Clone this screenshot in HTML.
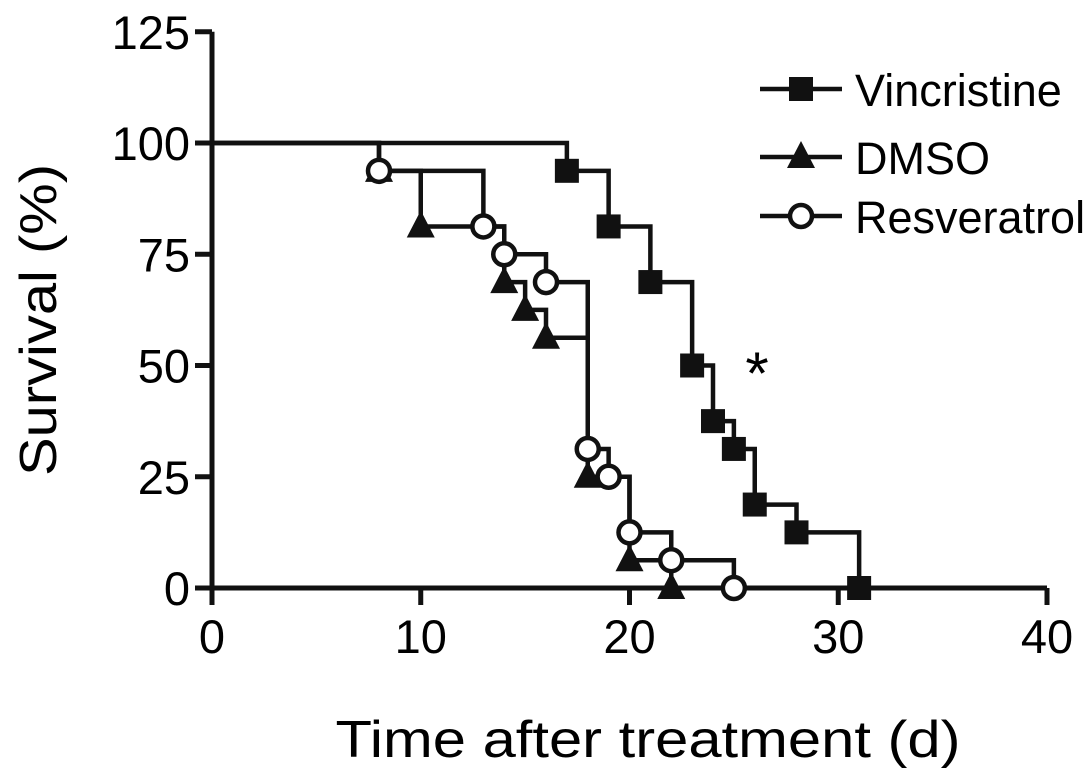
<!DOCTYPE html>
<html><head><meta charset="utf-8"><style>
html,body{margin:0;padding:0;background:#fff;}
svg{display:block;font-family:"Liberation Sans",Arial,sans-serif;}
</style></head><body>
<svg id="chart" width="1087" height="778" viewBox="0 0 1087 778" xmlns="http://www.w3.org/2000/svg">
<g id="axes"></g>
<g id="series"></g>
<g id="legend"></g>
<text x="757" y="394" font-size="60" text-anchor="middle">*</text>
<text x="648" y="757" font-size="52" text-anchor="middle" textLength="625" lengthAdjust="spacingAndGlyphs">Time after treatment (d)</text>
<text transform="translate(56,320) rotate(-90)" font-size="52" text-anchor="middle" textLength="312" lengthAdjust="spacingAndGlyphs">Survival (%)</text>
</svg>
<script>
const xTicks = [0, 10, 20, 30, 40];
const yTicks = [0, 25, 50, 75, 100, 125];
const seriesNames = ["Vincristine", "DMSO", "Resveratrol"];
const vincristineT = [17, 19, 21, 23, 24, 25, 26, 28, 31];
const vincristineS = [93.75, 81.25, 68.75, 50, 37.5, 31.25, 18.75, 12.5, 0];
const dmsoT = [8, 10, 14, 15, 16, 18, 20, 22];
const dmsoS = [93.75, 81.25, 68.75, 62.5, 56.25, 25, 6.25, 0];
const resveratrolT = [8, 13, 14, 16, 18, 19, 20, 22, 25];
const resveratrolS = [93.75, 81.25, 75, 68.75, 31.25, 25, 12.5, 6.25, 0];

const NS = "http://www.w3.org/2000/svg";
const X = v => 212 + v * (1047 - 212) / 40;
const Y = v => 588 - v * (588 - 143) / 100;
function mk(tag, attrs, parent) {
  const e = document.createElementNS(NS, tag);
  for (const k in attrs) e.setAttribute(k, attrs[k]);
  parent.appendChild(e);
  return e;
}
const axes = document.getElementById('axes');
let l = mk('line', {x1: X(0), y1: Y(0), x2: X(40), y2: Y(0), stroke: '#111', 'stroke-width': 5}, axes);


l = mk('line', {x1: X(0), y1: Y(0), x2: X(0), y2: Y(125), stroke: '#111', 'stroke-width': 5}, axes);


xTicks.forEach(t => {
  const tk = mk('line', {x1: X(t), y1: Y(0), x2: X(t), y2: Y(0) + 17, stroke: '#111', 'stroke-width': 5}, axes);
  
  
  const tx = mk('text', {x: X(t), y: 653, 'font-size': 47, 'text-anchor': 'middle'}, axes);
  
  
  tx.textContent = t;
});
yTicks.forEach(t => {
  const tk = mk('line', {x1: X(0) - 17, y1: Y(t), x2: X(0), y2: Y(t), stroke: '#111', 'stroke-width': 5}, axes);
  
  
  const tx = mk('text', {x: 190, y: Y(t) + 17, 'font-size': 47, 'text-anchor': 'end'}, axes);
  
  
  tx.textContent = t;
});

function marker(kind, cx, cy, parent) {
  let m;
  if (kind === 0) m = mk('rect', {x: cx - 12, y: cy - 12, width: 24, height: 24, fill: '#111'}, parent);
  else if (kind === 1) m = mk('polygon', {points: `${cx},${cy-16} ${cx+14},${cy+11} ${cx-14},${cy+11}`, fill: '#111'}, parent);
  else m = mk('circle', {cx: cx, cy: cy, r: 11, fill: '#fff', stroke: '#111', 'stroke-width': 4.5}, parent);
  return m;
}
const seriesG = document.getElementById('series');
const data = [[vincristineT, vincristineS], [dmsoT, dmsoS], [resveratrolT, resveratrolS]];
const order = [0, 1, 2];
order.forEach(i => {
  const [T, S] = data[i];
  const g = mk('g', {}, seriesG);
  
  
  let d = `M${X(0)},${Y(100)}`;
  T.forEach((t, j) => { d += ` H${X(t)} V${Y(S[j])}`; });
  const p = mk('path', {d: d, fill: 'none', stroke: '#111', 'stroke-width': 4.5}, g);
  
  
});
order.forEach(i => {
  const [T, S] = data[i];
  T.forEach((t, j) => {
    const m = marker(i, X(t), Y(S[j]), seriesG);
    
    
  });
});

const legend = document.getElementById('legend');
const ly = [89, 157, 216];
seriesNames.forEach((n, i) => {
  const g = mk('g', {}, legend);
  
  
  mk('line', {x1: 760, y1: ly[i], x2: 842, y2: ly[i], stroke: '#111', 'stroke-width': 4.5}, g);
  marker(i, 801, ly[i], g);
  const tx = mk('text', {x: 855, y: ly[i] + 17, 'font-size': 45}, g);
  
  
  tx.textContent = n;
});
</script>
</body></html>
